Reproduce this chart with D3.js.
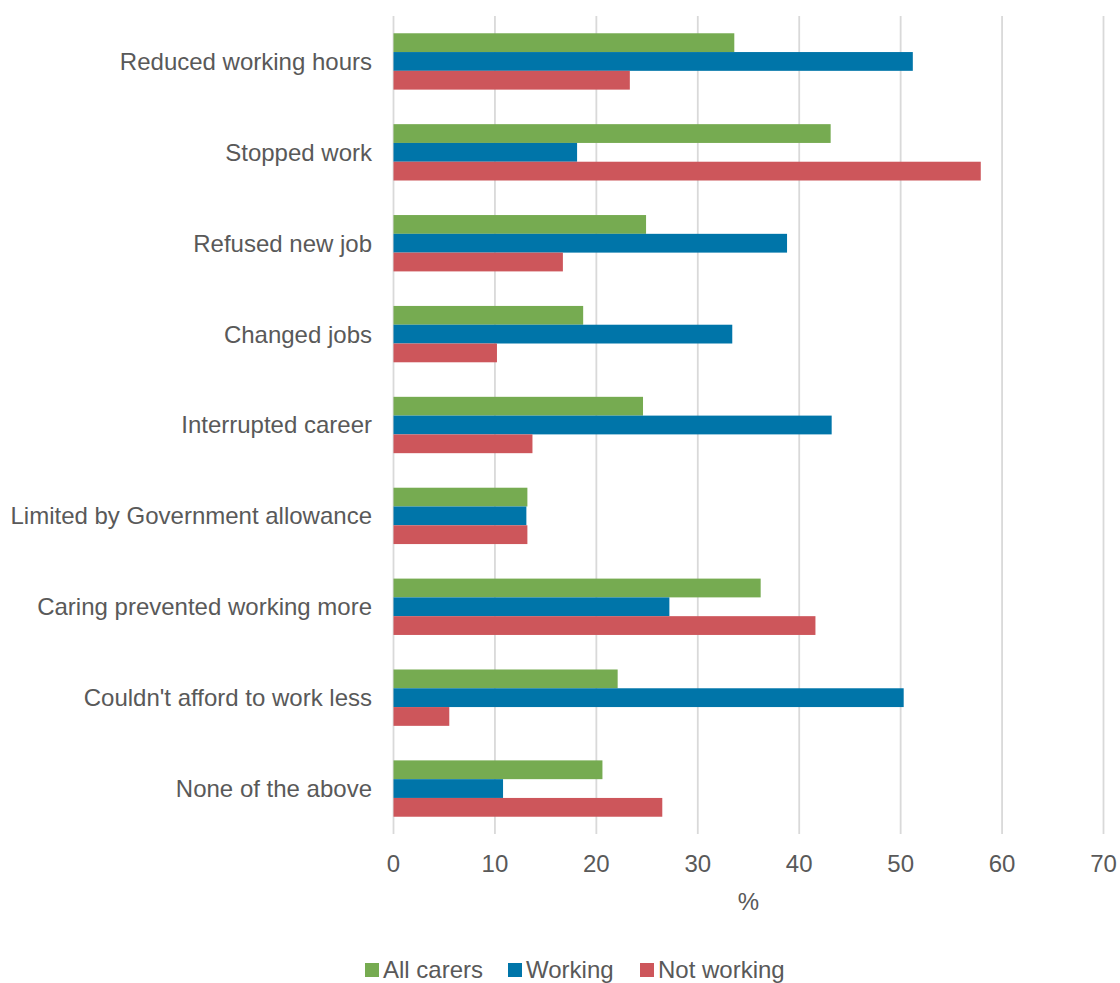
<!DOCTYPE html>
<html>
<head>
<meta charset="utf-8">
<script src="https://cdn.jsdelivr.net/npm/d3@7"></script>
<style>
  html, body { margin: 0; padding: 0; background: #fff; }
  svg text { font-family: "Liberation Sans", Arial, Helvetica, sans-serif; fill: #595959; }
</style>
</head>
<body>
<svg id="chart" width="1120" height="983"></svg>
<script>
// Impact of caring on employment, % of carers by group
const categories = [
  "Reduced working hours",
  "Stopped work",
  "Refused new job",
  "Changed jobs",
  "Interrupted career",
  "Limited by Government allowance",
  "Caring prevented working more",
  "Couldn't afford to work less",
  "None of the above"
];
const seriesNames = ["All carers", "Working", "Not working"];
const allCarers  = [33.6, 43.1, 24.9, 18.7, 24.6, 13.2, 36.2, 22.1, 20.6];
const working    = [51.2, 18.1, 38.8, 33.4, 43.2, 13.1, 27.2, 50.3, 10.8];
const notWorking = [23.3, 57.9, 16.7, 10.2, 13.7, 13.2, 41.6,  5.5, 26.5];
const xTicks = [0, 10, 20, 30, 40, 50, 60, 70];
const axisTitle = "%";

const colors = ["#76AB51", "#0075A9", "#CD565B"];
const seriesValues = [allCarers, working, notWorking];

const svg = d3.select("#chart");

const plot = { left: 393.5, right: 1103.5, top: 16, bottom: 834 };

const x = d3.scaleLinear().domain([0, 70]).range([plot.left, plot.right]);
const y = d3.scaleBand().domain(categories).range([plot.top, plot.bottom])
  .paddingInner(0.38).paddingOuter(0.19);
const ySub = d3.scaleBand().domain(seriesNames).range([0, y.bandwidth()]);

// vertical gridlines
svg.append("g").selectAll("line").data(xTicks).join("line")
  .attr("x1", d => x(d)).attr("x2", d => x(d))
  .attr("y1", plot.top).attr("y2", plot.bottom)
  .attr("stroke", "#D9D9D9").attr("stroke-width", 1.8);

// bars
const rows = categories.map((c, i) => ({
  cat: c,
  vals: seriesNames.map((s, j) => ({ s, j, v: seriesValues[j][i] }))
}));
const groups = svg.append("g").selectAll("g").data(rows).join("g")
  .attr("transform", d => `translate(0,${y(d.cat)})`);
groups.selectAll("rect").data(d => d.vals).join("rect")
  .attr("x", x(0))
  .attr("y", d => ySub(d.s))
  .attr("width", d => x(d.v) - x(0))
  .attr("height", ySub.bandwidth())
  .attr("fill", d => colors[d.j]);

// category labels
svg.append("g").selectAll("text").data(categories).join("text")
  .attr("x", 372)
  .attr("y", d => y(d) + y.bandwidth() / 2)
  .attr("dy", "0.35em")
  .attr("text-anchor", "end")
  .attr("font-size", 24)
  .text(d => d);

// x tick labels
svg.append("g").selectAll("text").data(xTicks).join("text")
  .attr("x", d => x(d))
  .attr("y", 872)
  .attr("text-anchor", "middle")
  .attr("font-size", 24)
  .text(d => d);

// axis title
svg.append("text")
  .attr("x", (plot.left + plot.right) / 2)
  .attr("y", 910)
  .attr("text-anchor", "middle")
  .attr("font-size", 24)
  .text(axisTitle);

// legend
const legendX = [365, 508, 640];
const legend = svg.append("g").selectAll("g").data(seriesNames).join("g")
  .attr("transform", (d, i) => `translate(${legendX[i]},0)`);
legend.append("rect")
  .attr("x", 0).attr("y", 963).attr("width", 14).attr("height", 14)
  .attr("fill", (d, i) => colors[i]);
legend.append("text")
  .attr("x", 18).attr("y", 978)
  .attr("font-size", 24)
  .text(d => d);
</script>
</body>
</html>
